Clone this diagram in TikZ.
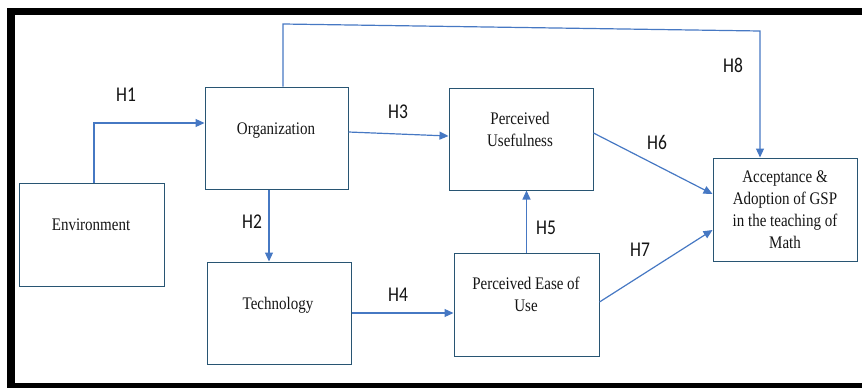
\documentclass[tikz,border=0pt]{standalone}
\usepackage{fontspec}
\usepackage{graphicx}
\setmainfont{Liberation Serif}
\newfontfamily\namefont{Liberation Serif}
\newfontfamily\hypfont{Carlito}
\usetikzlibrary{arrows.meta}

\definecolor{boxline}{RGB}{40,85,115}
\definecolor{linkline}{RGB}{70,120,195}
\definecolor{inktext}{RGB}{20,20,20}

% construct names: serif, slightly tall, centred lines
\newcommand{\boxtext}[1]{\scalebox{1}[1.18]{\namefont\fontsize{15}{18.6}\selectfont
  \begin{tabular}{@{}c@{}}#1\end{tabular}}}
% hypothesis tags: sans, slightly tall
\newcommand{\hyptag}[1]{\scalebox{1}[1.2]{\hypfont\fontsize{17.5}{20}\selectfont #1}}

\tikzset{
  construct/.style={draw=boxline, line width=1pt, minimum width=144pt,
    minimum height=102pt, inner sep=0pt},
  caption/.style={inner sep=0pt, text=inktext},
  link/.style={draw=linkline, line width=1.2pt,
    -{Triangle[length=9pt,width=8pt]}},
  tag/.style={inner sep=0pt, text=inktext},
}

\begin{document}
\begin{tikzpicture}[x=1pt, y=-1pt]
\useasboundingbox (0,0) rectangle (862,388);

% heavy frame (top, left, bottom)
\fill[black] (7,8) rectangle (862,15);
\fill[black] (7,8) rectangle (15,388);
\fill[black] (7,383) rectangle (862,388);

% constructs
\node[construct, minimum width=145pt, minimum height=103pt] (env) at (91.5,234.5) {};
\node[construct, minimum width=143pt] (org) at (276.5,138) {};
\node[construct] (tech) at (279,313) {};
\node[construct] (pu) at (521,139) {};
\node[construct, minimum width=145pt, minimum height=103pt] (peou) at (526.5,304.5) {};
\node[construct, minimum height=103pt] (acc) at (785,209.5) {};

\node[caption] (envtxt) at (91,226) {\boxtext{Environment}};
\node[caption] (orgtxt) at (276,130) {\boxtext{Organization}};
\node[caption] (techtxt) at (278,305) {\boxtext{Technology}};
\node[caption] (putxt) at (520,131) {\boxtext{Perceived\\Usefulness}};
\node[caption] (peoutxt) at (526,296) {\boxtext{Perceived Ease of\\Use}};
\node[caption] (acctxt) at (785,211) {\boxtext{Acceptance \&\\Adoption of GSP\\in the teaching of\\Math}};

% hypothesised paths
\coordinate (h1bend) at (94,123);
\draw[link] (h1bend |- env.north) -- (h1bend) -- (h1bend -| org.west);

\draw[link] ([xshift=-7.5pt]org.south) -- ([xshift=-7.5pt]org.south |- tech.north);

\draw[link] ([yshift=6pt]org.east) -- ([yshift=3pt]pu.west);

\draw[link] (tech.east) -- (tech.east -| peou.west);

\draw[link] (peou.north) -- (peou.north |- pu.south);

\draw[link] ([yshift=6pt]pu.east) -- ([yshift=15.5pt]acc.west);

\draw[link] ([yshift=2.5pt]peou.east) -- ([yshift=-20.5pt]acc.west);

\coordinate (h8a) at (283,24);
\coordinate (h8b) at (760,31);
\draw[link] ([xshift=6.5pt]org.north) -- (h8a) -- (h8b) -- ([xshift=-25pt]acc.north);

% hypothesis tags
\node[tag] (h1) at (126,95) {\hyptag{H1}};
\node[tag] (h2) at (252,222) {\hyptag{H2}};
\node[tag] (h3) at (398,112) {\hyptag{H3}};
\node[tag] (h4) at (398,295) {\hyptag{H4}};
\node[tag] (h5) at (546,228) {\hyptag{H5}};
\node[tag] (h6) at (657,142) {\hyptag{H6}};
\node[tag] (h7) at (640,250) {\hyptag{H7}};
\node[tag] (h8) at (733,65) {\hyptag{H8}};
\end{tikzpicture}
\end{document}
